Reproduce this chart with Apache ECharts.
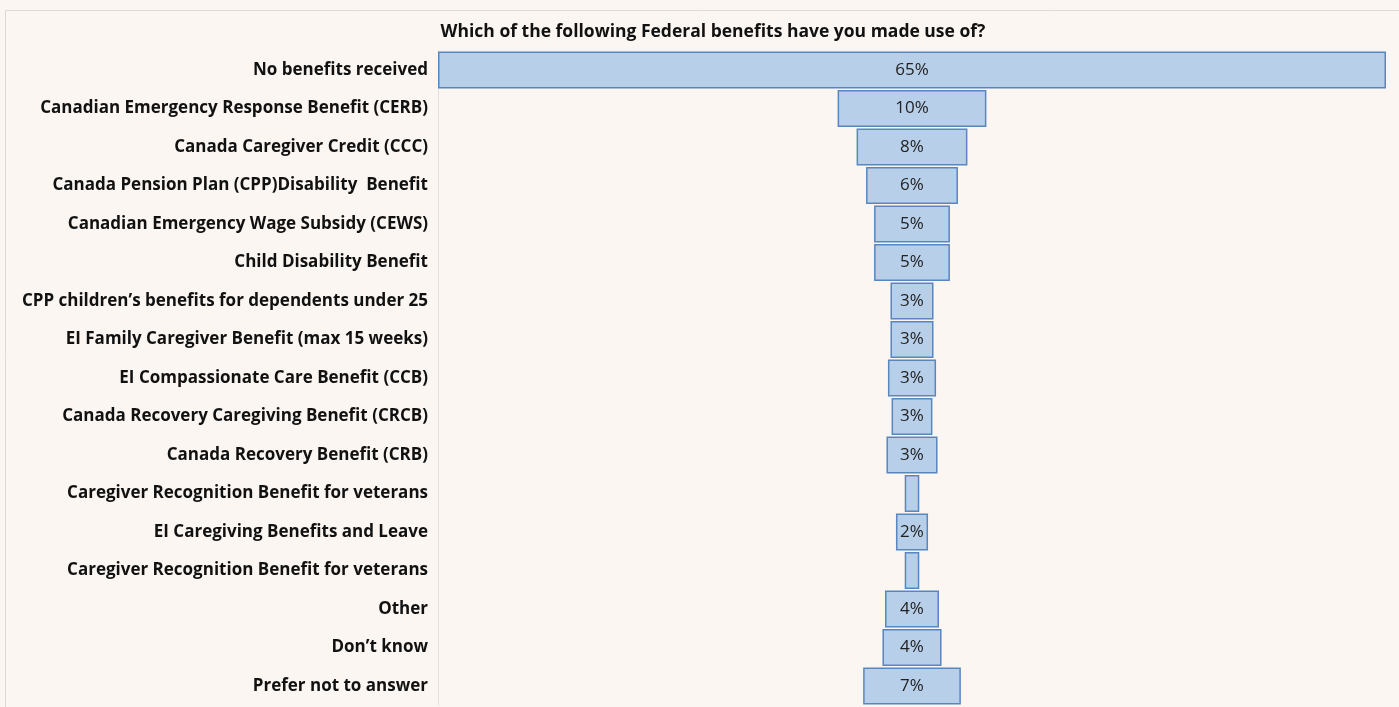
<!DOCTYPE html>
<html lang="en">
<head>
  <meta charset="UTF-8">
  <title>Federal benefits</title>
  <script src="https://cdn.jsdelivr.net/npm/echarts@6/dist/echarts.min.js"></script>
</head>
<style>
  html, body { margin: 0; padding: 0; background: #fbf6f2; }
  #main { width: 1399px; height: 707px; }
</style>
<body>
<div id="main"></div>
<script>
  // categories, top to bottom
  var benefits = [
    'No benefits received',
    'Canadian Emergency Response Benefit (CERB)',
    'Canada Caregiver Credit (CCC)',
    'Canada Pension Plan (CPP)Disability  Benefit',
    'Canadian Emergency Wage Subsidy (CEWS)',
    'Child Disability Benefit',
    'CPP children\u2019s benefits for dependents under 25',
    'EI Family Caregiver Benefit (max 15 weeks)',
    'EI Compassionate Care Benefit (CCB)',
    'Canada Recovery Caregiving Benefit (CRCB)',
    'Canada Recovery Benefit (CRB)',
    'Caregiver Recognition Benefit for veterans',
    'EI Caregiving Benefits and Leave',
    'Caregiver Recognition Benefit for veterans',
    'Other',
    'Don\u2019t know',
    'Prefer not to answer'
  ];
  // bar widths (percent)
  var shares = [65, 10.2, 7.6, 6.3, 5.2, 5.2, 2.95, 2.95, 3.3, 2.8, 3.5, 1.0, 2.2, 1.0, 3.7, 4.05, 6.7];
  // printed labels
  var shareLabels = ['65%', '10%', '8%', '6%', '5%', '5%', '3%', '3%', '3%', '3%', '3%', '', '2%', '', '4%', '4%', '7%'];

  var maxShare = 65;
  var offsets = shares.map(function (v) { return (maxShare - v) / 2; });

  var myChart = echarts.init(document.getElementById('main'));
  myChart.setOption({
    animation: false,
    backgroundColor: '#fbf6f2',
    title: {
      text: 'Which of the following Federal benefits have you made use of?',
      left: 708,
      top: 18,
      textAlign: 'center',
      textStyle: { fontFamily: 'Open Sans', fontSize: 17.5, fontWeight: 'bold', color: '#111' }
    },
    graphic: [{
      type: 'rect',
      shape: { x: 5.5, y: 10.5, width: 1400, height: 720 },
      style: { fill: 'none', stroke: '#dedad6', lineWidth: 1 },
      silent: true
    }],
    grid: { left: 438, right: 13, top: 50.75, bottom: 1.75 },
    xAxis: {
      type: 'value',
      min: 0,
      max: maxShare,
      show: false
    },
    yAxis: {
      type: 'category',
      inverse: true,
      data: benefits,
      axisTick: { show: false },
      axisLine: { show: true, lineStyle: { color: '#e4e0dc', width: 1 } },
      axisLabel: {
        margin: 10,
        fontFamily: 'Open Sans',
        fontSize: 17,
        fontWeight: 'bold',
        color: '#111'
      }
    },
    series: [
      {
        name: 'offset',
        type: 'bar',
        stack: 'b',
        silent: true,
        itemStyle: { color: 'transparent' },
        data: offsets
      },
      {
        name: 'share',
        type: 'bar',
        stack: 'b',
        barCategoryGap: '4%',
        itemStyle: { color: '#b8cfe9', borderColor: '#5886bf', borderWidth: 1.5 },
        label: {
          show: true,
          position: 'inside',
          fontFamily: 'Open Sans',
          fontSize: 17,
          color: '#222',
          formatter: function (p) { return shareLabels[p.dataIndex]; }
        },
        data: shares
      }
    ]
  });
</script>
</body>
</html>
